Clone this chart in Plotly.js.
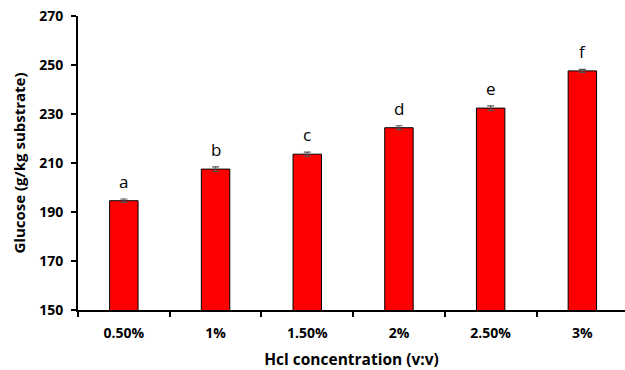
<!DOCTYPE html>
<html><head><meta charset="utf-8">
<script src="https://cdn.plot.ly/plotly-3.0.1.min.js"></script>
<style>body{margin:0;background:#fff}#c{width:625px;height:370px}</style>
</head><body><div id="c"></div>
<script>
const categories = ["0.50%", "1%", "1.50%", "2%", "2.50%", "3%"];
const glucose = [194.6, 207.5, 213.6, 224.4, 232.4, 247.6];
const errors = [0.7, 0.9, 0.8, 0.8, 0.9, 0.6];
const letters = ["a", "b", "c", "d", "e", "f"];

const font = "Open Sans, Noto Sans, Liberation Sans, sans-serif";
const trace = {
  type: "bar", x: categories, y: glucose, width: 0.31,
  marker: {color: "#ff0000", line: {color: "#000", width: 1}},
  error_y: {type: "data", array: errors, visible: true, color: "#555", thickness: 1.2, width: 3.5},
  hoverinfo: "none"
};
const annotations = categories.map((c, i) => ({
  x: c, y: glucose[i], text: letters[i], showarrow: false,
  yanchor: "bottom", yshift: 6, font: {family: font, size: 17, color: "#000"}
}));
const layout = {
  width: 625, height: 370,
  margin: {l: 78, r: 0, t: 16, b: 60},
  paper_bgcolor: "#fff", plot_bgcolor: "#fff",
  showlegend: false, bargap: 0.69,
  xaxis: {
    type: "category", range: [-0.5, 5.465], tickson: "boundaries",
    ticks: "outside", ticklen: 5, tickwidth: 2, tickcolor: "#000",
    showline: true, linecolor: "#000", linewidth: 2, showgrid: false,
    ticklabelstandoff: 9,
    tickfont: {family: font, size: 14, color: "#000", weight: "bold"},
    title: {text: "Hcl concentration (v:v)", font: {family: font, size: 15.5, color: "#000", weight: "bold"}, standoff: 14}
  },
  yaxis: {
    range: [150, 270], dtick: 20, tick0: 150,
    ticks: "outside", ticklen: 5, tickwidth: 2, tickcolor: "#000",
    showline: true, linecolor: "#000", linewidth: 2, showgrid: false, zeroline: false,
    ticklabelstandoff: 5,
    tickfont: {family: font, size: 14, color: "#000", weight: "bold"},
    title: {text: "Glucose (g/kg substrate)", font: {family: font, size: 15, color: "#000", weight: "bold"}, standoff: 10}
  },
  annotations: annotations
};
Plotly.newPlot("c", [trace], layout, {displayModeBar: false, staticPlot: true});
</script></body></html>
